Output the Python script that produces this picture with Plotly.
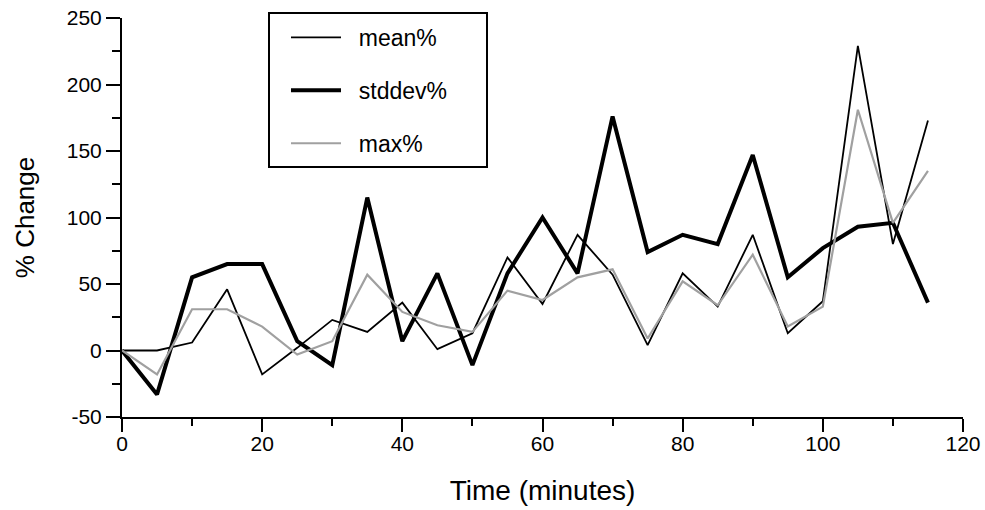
import plotly.graph_objects as go

time_min = [0, 5, 10, 15, 20, 25, 30, 35, 40, 45, 50, 55, 60, 65, 70, 75, 80, 85, 90, 95, 100, 105, 110, 115]
mean_pct = [0, 0, 6, 46, -18, 2, 23, 14, 36, 1, 13, 70, 35, 87, 57, 4, 58, 33, 87, 13, 37, 229, 80, 173]
stddev_pct = [0, -33, 55, 65, 65, 7, -11, 115, 7, 58, -11, 58, 100, 58, 176, 74, 87, 80, 147, 55, 77, 93, 96, 36]
max_pct = [0, -18, 31, 31, 18, -3, 7, 57, 29, 19, 14, 45, 38, 55, 61, 9, 52, 34, 72, 18, 33, 181, 96, 135]

series_names = ["mean%", "stddev%", "max%"]
x_ticks = [0, 20, 40, 60, 80, 100, 120]
y_ticks = [-50, 0, 50, 100, 150, 200, 250]
y_tick_labels = ["-50", "0", "50", "100", "150", "200", "250"]

FONT = "Liberation Sans, Arial, sans-serif"

fig = go.Figure()
styles = [dict(color="black", width=1.8), dict(color="black", width=4), dict(color="#a0a0a0", width=2.2)]
for name, vals, st in zip(series_names, [mean_pct, stddev_pct, max_pct], styles):
    fig.add_trace(go.Scatter(x=time_min, y=vals, mode="lines", name="&nbsp;&nbsp;" + name, line=st,
                             legendgroup=name))

fig.update_layout(
    width=985, height=510,
    margin=dict(l=122, r=22, t=18, b=93, autoexpand=False),
    plot_bgcolor="white", paper_bgcolor="white",
    font=dict(family=FONT, size=21, color="black"),
    showlegend=True,
    legend=dict(x=0.195, y=1.005, xanchor="left", yanchor="top",
                bgcolor="rgba(0,0,0,0)", borderwidth=0,
                tracegroupgap=20, itemwidth=50,
                font=dict(family=FONT, size=23)),
    xaxis=dict(range=[0, 120], tickvals=x_ticks, showgrid=False, zeroline=False,
               showline=True, linecolor="black", linewidth=2, automargin=False,
               ticks="outside", ticklen=13, tickwidth=2, tickcolor="black",
               ticklabelstandoff=-6,
               minor=dict(dtick=10, ticks="outside", ticklen=7, tickwidth=2, tickcolor="black"),
               tickfont=dict(size=21),
               title=dict(text="Time (minutes)", font=dict(size=28), standoff=26)),
    yaxis=dict(range=[-50, 250], tickvals=y_ticks, ticktext=y_tick_labels,
               showgrid=False, zeroline=False,
               showline=True, linecolor="black", linewidth=2, automargin=False,
               ticks="outside", ticklen=14, tickwidth=2, tickcolor="black",
               minor=dict(dtick=25, ticks="outside", ticklen=8, tickwidth=2, tickcolor="black"),
               tickfont=dict(size=21),
               title=dict(text="% Change", font=dict(size=26), standoff=25)),
)

fig.add_shape(type="rect", xref="paper", yref="paper",
              x0=(269 - 122) / 841, x1=(487 - 122) / 841,
              y0=(417 - 167) / 399, y1=(417 - 13) / 399,
              line=dict(color="black", width=2), fillcolor="rgba(0,0,0,0)", layer="above")

fig.write_html("out.html")
